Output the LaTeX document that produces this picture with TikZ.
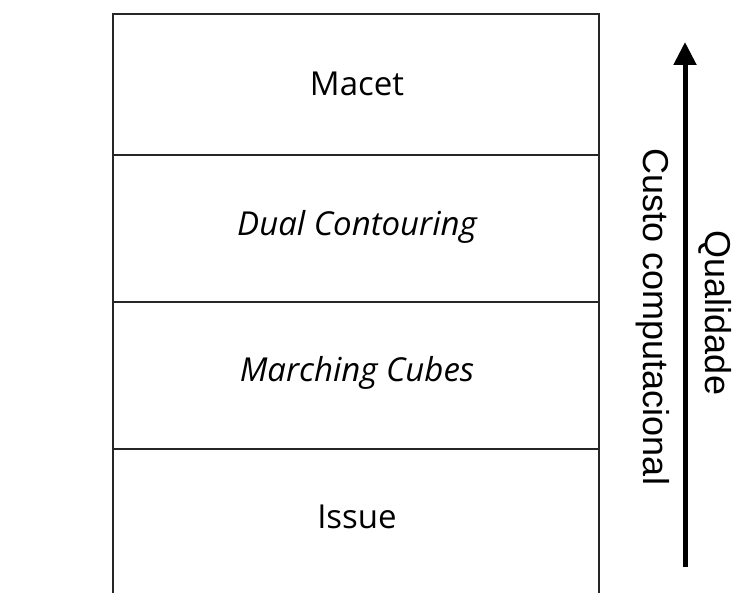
\documentclass[tikz,border=0pt]{standalone}
\usepackage{fontspec}
\setmainfont{Open Sans}
\newfontfamily\arialfont{Liberation Sans}
\usetikzlibrary{arrows.meta}
\tikzset{
  boxline/.style={draw=black!85, line width=1.8pt},
  layerlabel/.style={font=\fontsize{33}{38}\selectfont, inner sep=0pt},
  sidelabel/.style={font=\arialfont\fontsize{36}{40}\selectfont, rotate=-90, anchor=base, inner sep=0pt},
  bigarrow/.style={line width=5pt, -{Triangle[width=22pt,length=23pt]}}
}
\begin{document}
\begin{tikzpicture}[x=1pt,y=-1pt]
\useasboundingbox (0,0) rectangle (734,593);
% box
\draw[boxline] (113,593) -- (113,14) -- (599,14) -- (599,593);
\draw[boxline] (113,155) -- (599,155);
\draw[boxline] (113,302) -- (599,302);
\draw[boxline] (113,449) -- (599,449);
% labels
\node[layerlabel] (macet) at (357,84) {Macet};
\node[layerlabel] (dual) at (357,227) {\itshape Dual Contouring};
\node[layerlabel] (march) at (357,373) {\itshape Marching Cubes};
\node[layerlabel] (issue) at (357,517) {Issue};
% arrow
\coordinate (abot) at (685,567);
\coordinate (atop) at (685,42);
\draw[bigarrow] (abot) -- (atop);
\node[sidelabel] (custo) at (643,317) {Custo computacional};
\node[sidelabel] (qual) at (705,313) {Qualidade};
\end{tikzpicture}
\end{document}
